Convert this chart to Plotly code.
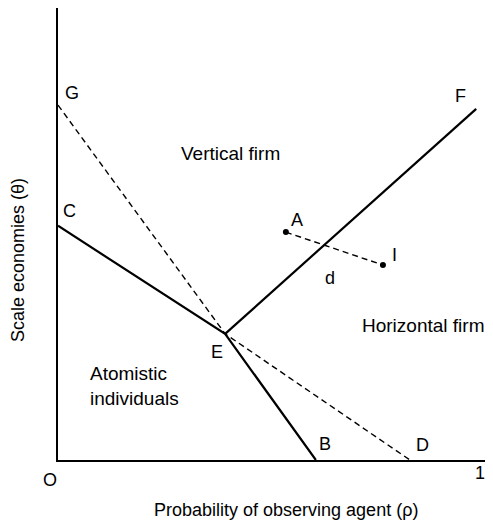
import plotly.graph_objects as go

# ---- data (unit square: x = rho, y = theta) ----
point_names = ["G", "C", "E", "B", "D", "F", "A", "I"]
point_x = [0.0, 0.0, 0.396, 0.611, 0.834, 0.991, 0.540, 0.770]
point_y = [0.841, 0.555, 0.299, 0.0, 0.0, 0.832, 0.540, 0.462]

solid_paths = [["C", "E", "B"], ["E", "F"]]
dashed_paths = [["G", "E", "D"]]
connector = ["A", "I"]

region_labels = ["Vertical firm", "Horizontal firm", "Atomistic<br>individuals"]
x_tick_labels = ["O", "1"]
x_title = "Probability of observing agent (ρ)"
y_title = "Scale economies (θ)"

P = {n: (x, y) for n, x, y in zip(point_names, point_x, point_y)}

# ---- layout geometry (page has an 8px body margin) ----
OFF = 8
W, H = 485, 519
L, R, T, B = 50, 0, 0, 67
UNIT = 422.0  # pixels per data unit
PW, PH = W - L - R, H - T - B
X_MAX = PW / UNIT
Y_MAX = PH / UNIT


def pp(xp, yp):
    """convert page pixel to paper coordinates"""
    fx, fy = xp - OFF, yp - OFF
    return (fx - L) / PW, (H - B - fy) / PH


FONT = "Liberation Sans, Arial, sans-serif"
fig = go.Figure()

for path in solid_paths:
    fig.add_trace(go.Scatter(x=[P[n][0] for n in path], y=[P[n][1] for n in path],
                             mode="lines", line=dict(color="black", width=2.2),
                             hoverinfo="skip", showlegend=False, cliponaxis=False))
for path in dashed_paths:
    fig.add_trace(go.Scatter(x=[P[n][0] for n in path], y=[P[n][1] for n in path],
                             mode="lines", line=dict(color="black", width=1.4, dash="6px,4px"),
                             hoverinfo="skip", showlegend=False, cliponaxis=False))
fig.add_trace(go.Scatter(x=[P[n][0] for n in connector], y=[P[n][1] for n in connector],
                         mode="lines+markers", line=dict(color="black", width=1.4, dash="6px,4px"),
                         marker=dict(color="black", size=6),
                         hoverinfo="skip", showlegend=False, cliponaxis=False))

# point labels (pixel offsets)
offsets = {"G": (14, -12), "C": (11, -15), "E": (-8, 18), "B": (9, -16),
           "D": (13, -15), "F": (-16, -13), "A": (11, -12), "I": (12, -10)}
ann = []
for n in point_names:
    dx, dy = offsets[n]
    ann.append(dict(x=P[n][0], y=P[n][1], xref="x", yref="y", text=n, showarrow=False,
                    xanchor="center", yanchor="middle",
                    xshift=dx, yshift=-dy, font=dict(family=FONT, size=18, color="black")))


def page_text(txt, xp, yp, size, **kw):
    ax_, ay_ = pp(xp, yp)
    d = dict(x=ax_, y=ay_, xref="paper", yref="paper", text=txt, showarrow=False,
             xanchor="center", yanchor="middle",
             font=dict(family=FONT, size=size, color="black"))
    d.update(kw)
    ann.append(d)


page_text("d", 330, 278, 18)

# region labels
page_text(region_labels[0], 230, 153, 19)
page_text(region_labels[1], 423, 325, 19)
page_text(region_labels[2], 88, 386, 19, xanchor="left", align="left")

# tick labels O and 1
page_text(x_tick_labels[0], 50, 480, 18)
page_text(x_tick_labels[1], 480, 473, 18)

# axis titles
page_text(x_title, 286, 510, 18)
page_text(y_title, 18, 260, 18, textangle=-90)

fig.update_layout(
    width=W, height=H,
    margin=dict(l=L, r=R, t=T, b=B),
    paper_bgcolor="white", plot_bgcolor="white",
    annotations=ann,
    xaxis=dict(range=[0, X_MAX], showgrid=False, zeroline=False, showticklabels=False,
               ticks="", showline=True, linecolor="black", linewidth=2, fixedrange=True),
    yaxis=dict(range=[0, Y_MAX], showgrid=False, zeroline=False, showticklabels=False,
               ticks="", showline=True, linecolor="black", linewidth=2, fixedrange=True),
)

fig.write_html("out.html")
